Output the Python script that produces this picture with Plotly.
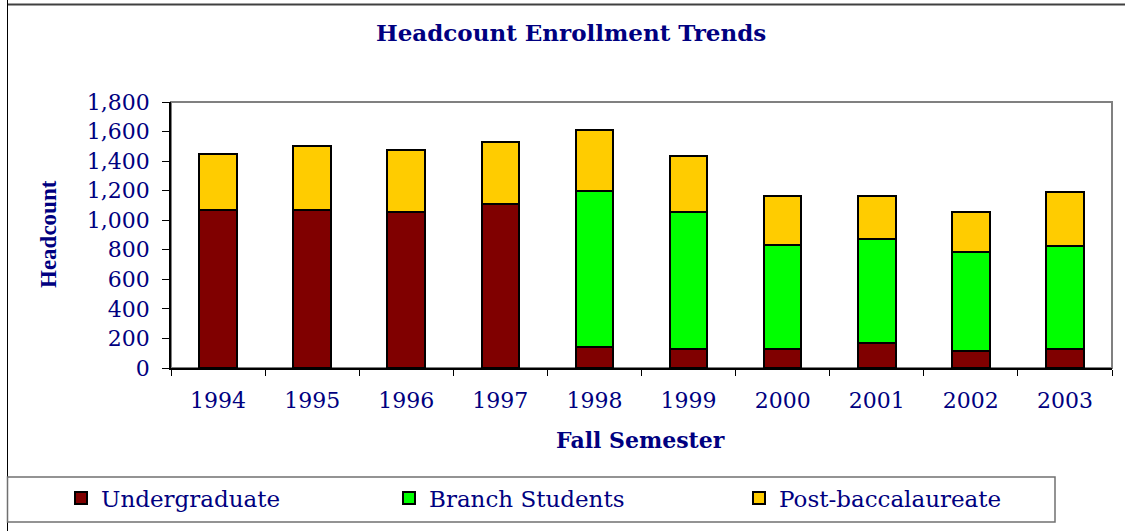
import plotly.graph_objects as go

years = ["1994", "1995", "1996", "1997", "1998", "1999", "2000", "2001", "2002", "2003"]
undergraduate = [1070, 1070, 1054, 1108, 142, 131, 131, 172, 118, 131]
branch_students = [None, None, None, None, 1059, 923, 704, 703, 664, 692]
post_bacc = [377, 434, 420, 421, 407, 384, 327, 287, 272, 367]

series_names = ["Undergraduate", "Branch Students", "Post-baccalaureate"]
series_colors = ["#800000", "#00FF00", "#FFCC00"]

NAVY = "#000080"
W, H = 1125, 531
ML, MR, MT, MB = 171, 13, 102, 163
PW, PH = W - ML - MR, H - MT - MB


def px_x(px):
    return (px - ML) / PW


def px_y(py):
    return (H - MB - py) / PH


fig = go.Figure()
legend_ids = ["legend", "legend2", "legend3"]
for name, vals, color, lg in zip(series_names, [undergraduate, branch_students, post_bacc], series_colors, legend_ids):
    fig.add_trace(go.Bar(
        x=years, y=vals, name=name, legend=lg,
        marker=dict(color=color, line=dict(color="black", width=2)),
    ))

legend_common = dict(
    orientation="h", bgcolor="rgba(0,0,0,0)", borderwidth=0,
    font=dict(family="DejaVu Serif", size=23, color=NAVY),
    yanchor="middle", xanchor="left",
)
marker_centers = [81, 409, 759]
layout_legends = {}
for lg, mc in zip(legend_ids, marker_centers):
    layout_legends[lg] = dict(legend_common, x=px_x(mc - 20), y=px_y(498))

fig.update_layout(
    width=W, height=H,
    margin=dict(l=ML, r=MR, t=MT, b=MB, pad=0),
    paper_bgcolor="white", plot_bgcolor="white",
    barmode="stack", bargap=0.6,
    showlegend=True,
    font=dict(family="DejaVu Serif", color=NAVY),
    xaxis=dict(
        type="category", tickson="boundaries", ticks="outside", ticklen=6,
        tickcolor="black", showline=True, linecolor="black", linewidth=1.5,
        showgrid=False, tickfont=dict(family="DejaVu Serif", size=22, color=NAVY),
        ticklabelstandoff=12,
    ),
    yaxis=dict(
        range=[0, 1800], dtick=200, tickformat=",d", ticks="outside", ticklen=7,
        tickcolor="black", showline=True, linecolor="black", linewidth=1.5,
        showgrid=False, zeroline=False,
        tickfont=dict(family="DejaVu Serif", size=22, color=NAVY),
        ticklabelstandoff=8,
    ),
    **layout_legends,
)

shapes = [
    # plot area border (top/right gray)
    dict(type="rect", xref="paper", yref="paper", x0=0, x1=1, y0=0, y1=1,
         line=dict(color="#808080", width=2), layer="below"),
    # outer chart frame
    dict(type="line", xref="paper", yref="paper", x0=px_x(7), x1=px_x(1130), y0=px_y(4.5), y1=px_y(4.5),
         line=dict(color="#404040", width=2)),
    dict(type="line", xref="paper", yref="paper", x0=px_x(7.5), x1=px_x(7.5), y0=px_y(0), y1=px_y(540),
         line=dict(color="black", width=1)),
    # legend box
    dict(type="rect", xref="paper", yref="paper", x0=px_x(7.5), x1=px_x(1055), y0=px_y(477), y1=px_y(522),
         line=dict(color="#707070", width=1.5)),
]
fig.update_layout(shapes=shapes)

fig.add_annotation(text="<b>Headcount Enrollment Trends</b>", xref="paper", yref="paper",
                   x=px_x(571), y=px_y(32), showarrow=False, xanchor="center", yanchor="middle",
                   font=dict(family="DejaVu Serif", size=23, color=NAVY))
fig.add_annotation(text="<b>Fall Semester</b>", xref="paper", yref="paper",
                   x=px_x(640), y=px_y(440), showarrow=False, xanchor="center", yanchor="middle",
                   font=dict(family="DejaVu Serif", size=22, color=NAVY))
fig.add_annotation(text="<b>Headcount</b>", xref="paper", yref="paper", textangle=-90,
                   x=px_x(48), y=px_y(234), showarrow=False, xanchor="center", yanchor="middle",
                   font=dict(family="Liberation Serif", size=23, color=NAVY))

fig.write_html("out.html", config={"displayModeBar": False},
               post_script="document.body.style.margin='0';document.body.style.overflow='hidden';")
